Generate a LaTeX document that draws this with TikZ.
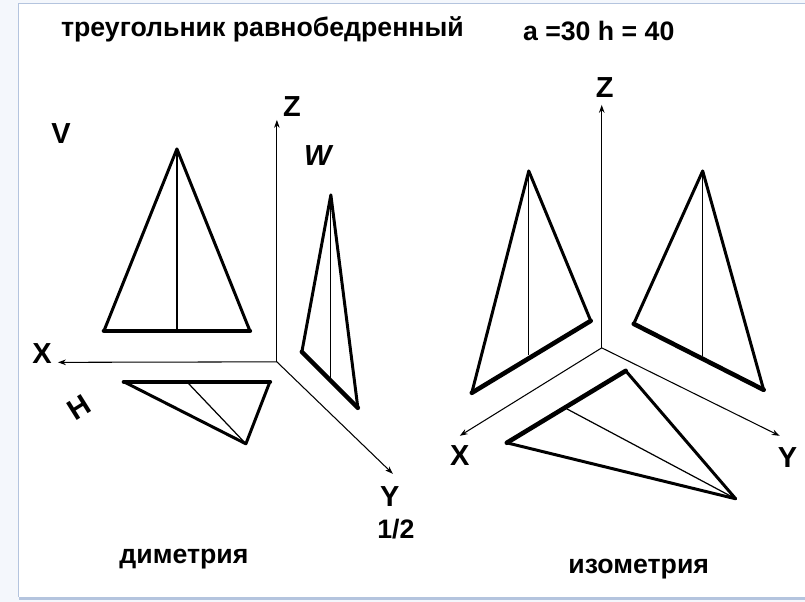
\documentclass[tikz,border=0pt]{standalone}
\usepackage{fontspec}
\setmainfont{Liberation Sans}
\usetikzlibrary{arrows.meta}
\definecolor{margin}{HTML}{F4F7FC}
\definecolor{frameline}{HTML}{B4C4DE}
\tikzstyle{axis} = [line width=.6pt, draw=black, -{Stealth[length=4.5pt, width=3.2pt]}]
\tikzstyle{side} = [line width=1.7pt, draw=black, line cap=round, line join=round]
\tikzstyle{base} = [line width=2.6pt, draw=black, line cap=round]
\tikzstyle{height} = [line width=.7pt, draw=black]
\tikzstyle{lbl} = [inner sep=0pt, font=\bfseries\fontsize{15.2}{17}\selectfont]
\tikzstyle{axlbl} = [inner sep=0pt, font=\bfseries\fontsize{16.5}{18}\selectfont]

\begin{document}
\begin{tikzpicture}[x=.02cm, y=-.02cm]
	\fill[margin] (0,0) rectangle (805,602);
	\fill[white] (18,3) rectangle (805,597);
	\draw[frameline, line width=.4pt] (805,3.5) -- (18.5,3.5) -- (18.5,597);
	\fill[frameline] (19,597) rectangle (805,600);
	\useasboundingbox (0,0) rectangle (805,602);

	% texts
	\node[lbl] (title) at (262.5,29) {треугольник равнобедренный};
	\node[lbl] (sizes) at (599,31) {a =30 h = 40};
	\node[axlbl] (viewv) at (61,134) {V};
	\node[axlbl, font=\bfseries\itshape\fontsize{16.5}{18}\selectfont] (vieww) at (318,156) {W};
	\node[axlbl, rotate=32] (viewh) at (79,408) {H};
	\node[lbl] (nameleft) at (184,559) {диметрия};
	\node[lbl] (nameright) at (639,569) {изометрия};

	% left axes
	\coordinate (o1) at (277,362);
	\coordinate (z1) at (277,120);
	\coordinate (x1) at (58,362.5);
	\coordinate (y1) at (393,474);
	\draw[axis] (o1) -- (z1);
	\draw[axis] (o1) -- (x1);
	\draw[axis] (o1) -- (y1);
	\node[axlbl] (labz1) at (292,107) {Z};
	\node[axlbl] (labx1) at (42,354) {X};
	\node[axlbl] (laby1) at (390,497) {Y};
	\node[lbl] (half) at (396,529) {1/2};

	% left triangles
	\coordinate (va) at (177,149);
	\coordinate (vb) at (104,331);
	\coordinate (vc) at (250,331);
	\coordinate (vm) at (177,331);
	\draw[side] (vb) -- (va) -- (vc);
	\draw[base] (vb) -- (vc);
	\draw[height] (va) -- (vm);

	\coordinate (wa) at (331,195);
	\coordinate (wb) at (302,352);
	\coordinate (wc) at (358,408);
	\coordinate (wm) at (331,381);
	\draw[side] (wb) -- (wa) -- (wc);
	\draw[base] (wb) -- (wc);
	\draw[height] (wa) -- (wm);

	\coordinate (ha) at (246,444);
	\coordinate (hb) at (124,382);
	\coordinate (hc) at (270,382);
	\coordinate (hm) at (187,382);
	\draw[side] (hb) -- (ha) -- (hc);
	\draw[base] (hb) -- (hc);
	\draw[height] (ha) -- (hm);

	% right axes
	\coordinate (o2) at (602,348);
	\coordinate (z2) at (602,105);
	\coordinate (x2) at (460,436);
	\coordinate (y2) at (780,436);
	\draw[axis] (o2) -- (z2);
	\draw[axis] (o2) -- (x2);
	\draw[axis] (o2) -- (y2);
	\node[axlbl] (labz2) at (605,88) {Z};
	\node[axlbl] (labx2) at (460,456) {X};
	\node[axlbl] (laby2) at (788,458) {Y};

	% right triangles
	\coordinate (pa) at (529,171);
	\coordinate (pb) at (472,393);
	\coordinate (pc) at (591,321);
	\coordinate (pm) at (529,355);
	\draw[side] (pb) -- (pa) -- (pc);
	\draw[base] (pb) -- (pc);
	\draw[height] (pa) -- (pm);

	\coordinate (qa) at (703,171);
	\coordinate (qb) at (634,324);
	\coordinate (qc) at (764,390);
	\coordinate (qm) at (703,356);
	\draw[side] (qb) -- (qa) -- (qc);
	\draw[base] (qb) -- (qc);
	\draw[height] (qa) -- (qm);

	\coordinate (ra) at (736,499);
	\coordinate (rb) at (507,443);
	\coordinate (rc) at (626,371);
	\coordinate (rm) at (567,409);
	\draw[side] (rb) -- (ra) -- (rc);
	\draw[base] (rb) -- (rc);
	\draw[height] (ra) -- (rm);
\end{tikzpicture}
\end{document}
